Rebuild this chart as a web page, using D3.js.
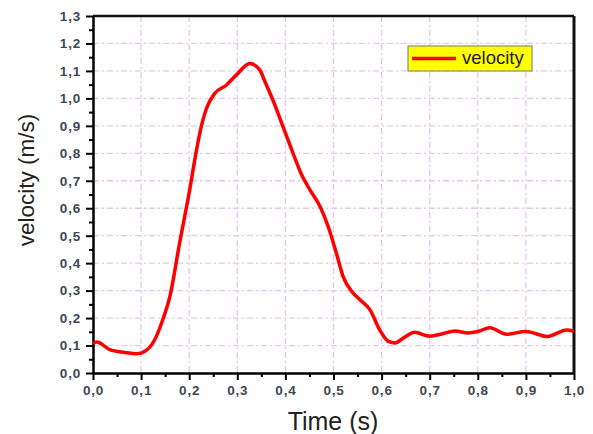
<!DOCTYPE html>
<html>
<head>
<meta charset="utf-8">
<script src="https://cdn.jsdelivr.net/npm/d3@7"></script>
<style>
  body { margin: 0; background: #fff; }
  svg { display: block; }
</style>
</head>
<body>
<svg width="593" height="434"></svg>
<script>
// data
var timeVals = [0, 0.008, 0.035, 0.066, 0.091, 0.108, 0.128, 0.145, 0.16, 0.18, 0.201, 0.215, 0.225, 0.236, 0.253, 0.277, 0.298, 0.326, 0.347, 0.356, 0.374, 0.395, 0.416, 0.434, 0.451, 0.472, 0.489, 0.506, 0.52, 0.541, 0.555, 0.576, 0.596, 0.614, 0.628, 0.645, 0.669, 0.7, 0.725, 0.752, 0.78, 0.8, 0.825, 0.86, 0.9, 0.945, 0.985, 1.0];
var velocityVals = [0.107, 0.113, 0.085, 0.075, 0.07, 0.079, 0.12, 0.194, 0.28, 0.473, 0.667, 0.81, 0.897, 0.964, 1.018, 1.048, 1.085, 1.127, 1.103, 1.067, 0.994, 0.897, 0.8, 0.721, 0.667, 0.606, 0.533, 0.436, 0.351, 0.291, 0.267, 0.23, 0.157, 0.115, 0.109, 0.127, 0.148, 0.134, 0.142, 0.153, 0.146, 0.151, 0.165, 0.141, 0.151, 0.133, 0.157, 0.152];
var xTicks = [0, 0.1, 0.2, 0.3, 0.4, 0.5, 0.6, 0.7, 0.8, 0.9, 1.0];
var yTicks = [0, 0.1, 0.2, 0.3, 0.4, 0.5, 0.6, 0.7, 0.8, 0.9, 1.0, 1.1, 1.2, 1.3];
var seriesName = "velocity";
var xTitle = "Time (s)";
var yTitle = "velocity (m/s)";

var svg = d3.select("svg"),
  margin = {top: 16, right: 19, bottom: 61, left: 93},
  width = svg.attr("width") - margin.left - margin.right,
  height = svg.attr("height") - margin.top - margin.bottom,
  g = svg.append("g").attr("transform", "translate(" + margin.left + "," + margin.top + ")");

var x = d3.scaleLinear().domain([0, 1]).range([0, width]),
  y = d3.scaleLinear().domain([0, 1.3]).range([height, 0]);

var fmt = function(d) { return d.toFixed(1).replace(".", ","); };

// grid
var gridColor = "#e6c6ee";
g.append("g").selectAll("line.gx")
  .data(xTicks.slice(1, -1))
  .enter().append("line")
  .attr("x1", d => x(d)).attr("x2", d => x(d))
  .attr("y1", 0).attr("y2", height)
  .attr("stroke", gridColor).attr("stroke-width", 1.3)
  .attr("stroke-dasharray", "6,3,2,3");
g.append("g").selectAll("line.gy")
  .data(yTicks.slice(1, -1))
  .enter().append("line")
  .attr("y1", d => y(d)).attr("y2", d => y(d))
  .attr("x1", 0).attr("x2", width)
  .attr("stroke", gridColor).attr("stroke-width", 1.3)
  .attr("stroke-dasharray", "6,3,2,3");

// minor ticks
var minorX = d3.range(0.05, 1, 0.1), minorY = d3.range(0.05, 1.3, 0.1);
g.append("g").attr("transform", "translate(0," + height + ")")
  .call(d3.axisBottom(x).tickValues(minorX).tickSize(4).tickFormat(""))
  .call(s => s.select(".domain").remove())
  .selectAll("line").attr("stroke-width", 2);
g.append("g")
  .call(d3.axisLeft(y).tickValues(minorY).tickSize(4).tickFormat(""))
  .call(s => s.select(".domain").remove())
  .selectAll("line").attr("stroke-width", 2);

// major axes
var xAxis = g.append("g").attr("transform", "translate(0," + height + ")")
  .call(d3.axisBottom(x).tickValues(xTicks).tickSize(7).tickPadding(5).tickSizeOuter(0).tickFormat(fmt));
var yAxis = g.append("g")
  .call(d3.axisLeft(y).tickValues(yTicks).tickSize(7).tickPadding(5).tickSizeOuter(0).tickFormat(fmt));
[xAxis, yAxis].forEach(a => {
  a.selectAll("line").attr("stroke-width", 2);
  a.select(".domain").attr("stroke-width", 2.5);
  a.selectAll("text")
    .style("font-family", "Arial, 'Liberation Sans', sans-serif")
    .style("font-size", "13.5px")
    .style("font-weight", "bold")
    .style("letter-spacing", "0.8px")
    .attr("fill", "#414654");
});

// frame top/right
g.append("line").attr("x1", 0).attr("x2", width).attr("y1", 0).attr("y2", 0)
  .attr("stroke", "#111").attr("stroke-width", 2.5);
g.append("line").attr("x1", width).attr("x2", width).attr("y1", 0).attr("y2", height)
  .attr("stroke", "#111").attr("stroke-width", 3);

// the line
var line = d3.line()
  .curve(d3.curveMonotoneX)
  .x(function(d, i) { return x(timeVals[i]); })
  .y(function(d) { return y(d); });

g.append("path")
  .datum(velocityVals)
  .attr("fill", "none")
  .attr("stroke", "#ff0000")
  .attr("stroke-width", 3.5)
  .attr("stroke-linejoin", "round")
  .attr("d", line);

// legend
var lg = svg.append("g").attr("transform", "translate(408,46)");
lg.append("rect").attr("width", 124).attr("height", 25)
  .attr("fill", "#ffff00").attr("stroke", "#777").attr("stroke-width", 1);
lg.append("line").attr("x1", 4).attr("x2", 48).attr("y1", 12.5).attr("y2", 12.5)
  .attr("stroke", "#ff0000").attr("stroke-width", 3.5);
lg.append("text").attr("x", 54).attr("y", 17.5)
  .style("font", "18.5px Arial, 'Liberation Sans', sans-serif").attr("fill", "#222")
  .text(seriesName);

// axis titles
svg.append("text")
  .attr("x", 333).attr("y", 430)
  .attr("text-anchor", "middle")
  .style("font", "25px Arial, 'Liberation Sans', sans-serif").attr("fill", "#222")
  .text(xTitle);
svg.append("text")
  .attr("transform", "translate(34,180) rotate(-90)")
  .attr("text-anchor", "middle")
  .style("font", "22.5px Arial, 'Liberation Sans', sans-serif").attr("fill", "#222")
  .text(yTitle);
</script>
</body>
</html>
